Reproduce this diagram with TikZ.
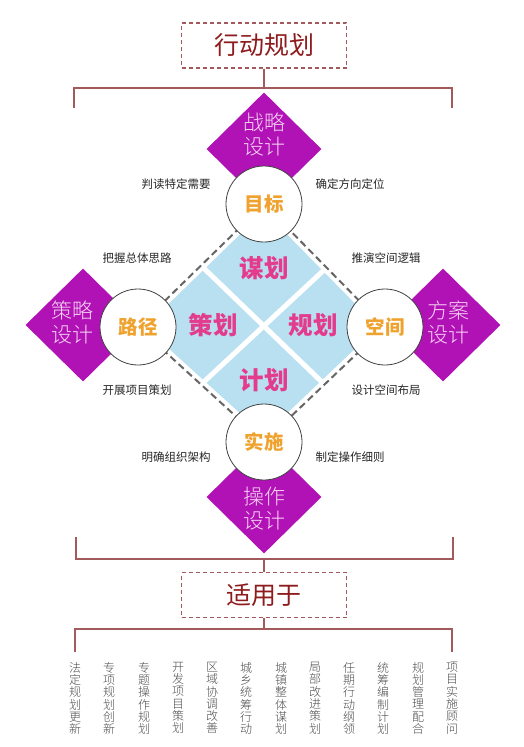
\documentclass[tikz,border=0pt]{standalone}
\usepackage{fontspec}
\setmainfont{Noto Sans CJK SC}
\newfontfamily\thinfont{Noto Sans CJK SC Light}
\usetikzlibrary{shapes.geometric}

\definecolor{bracketred}{HTML}{A35A5C}
\definecolor{titlered}{HTML}{8E1C1E}
\definecolor{designpurple}{HTML}{B012B6}
\definecolor{designink}{HTML}{F7D2F2}
\definecolor{quadblue}{HTML}{B8E0F1}
\definecolor{quadpink}{HTML}{E43C8C}
\definecolor{hubgold}{HTML}{F0A22E}

\begin{document}
\begin{tikzpicture}[x=1pt,y=-1pt,
  bracket/.style={draw=bracketred,line width=1.4pt},
  titlebox/.style={draw=bracketred,dashed,dash pattern=on 4pt off 3pt,line width=1.4pt,
    minimum width=165pt,minimum height=45pt,text=titlered,font=\fontsize{25}{25}\selectfont},
  designbox/.style={diamond,fill=designpurple,inner sep=0pt,minimum width=115pt,minimum height=113pt},
  designtext/.style={text=designink,align=center,font=\thinfont\fontsize{21}{24}\selectfont},
  hub/.style={circle,fill=white,draw=black!75,line width=0.8pt,minimum size=76pt,inner sep=0pt,
    text=hubgold,font=\fontsize{19.5}{19.5}\selectfont\bfseries},
  quadtext/.style={text=quadpink,font=\fontsize{24.5}{24.5}\selectfont\bfseries},
  note/.style={text=black!85,font=\fontsize{11.5}{12}\selectfont},
  coltext/.style={text=black!70,anchor=north,align=center,inner sep=0pt,font=\thinfont\fontsize{12}{12.3}\selectfont}]
\useasboundingbox (0,0) rectangle (523,747);

% top title and bracket
\node[titlebox] (plan) at (264,45.5) {行动规划};
\coordinate (topbar) at (264,88);
\coordinate (topL) at (74,108);
\coordinate (topR) at (452,108);
\draw[bracket] (plan.south) -- (topbar);
\draw[bracket] (topL) |- (topbar) -| (topR);

% corners of the middle square
\coordinate (goal) at (264,204);
\coordinate (route) at (138,327);
\coordinate (space) at (385,327);
\coordinate (act) at (264,442);

% blue square, white cross, dashed rim
\fill[quadblue] (264,211) -- (145,327) -- (264,435) -- (378,327) -- cycle;
\draw[white,line width=5pt] (201,265.5) -- (324.5,384.5);
\draw[white,line width=5pt] (324.5,269.5) -- (201,384.5);
\draw[black!60,line width=2pt,dash pattern=on 7pt off 4pt] (goal) -- (route) -- (act) -- (space) -- cycle;

% purple diamonds
\node[designbox] (strategy) at (264,149) {};
\node[designbox] (tactic) at (83,325) {};
\node[designbox] (scheme) at (443,325) {};
\node[designbox] (operate) at (264,497) {};

% circles
\node[hub] (goalc) at (goal) {目标};
\node[hub] (routec) at (route) {路径};
\node[hub] (spacec) at (space) {空间};
\node[hub] (actc) at (act) {实施};

% diamond texts
\node[designtext] (strategyt) at (264,135) {战略\\设计};
\node[designtext] (tactict) at (72,323) {策略\\设计};
\node[designtext] (schemet) at (448,323) {方案\\设计};
\node[designtext] (operatet) at (264,509) {操作\\设计};

% quadrant texts
\node[quadtext] (mou) at (264,268) {谋划};
\node[quadtext] (ce) at (213,325) {策划};
\node[quadtext] (gui) at (313,325) {规划};
\node[quadtext] (ji) at (264,380) {计划};

% side notes
\node[note] (n1) at (176,184) {判读特定需要};
\node[note] (n2) at (350,184) {确定方向定位};
\node[note] (n3) at (137,258) {把握总体思路};
\node[note] (n4) at (386,258) {推演空间逻辑};
\node[note] (n5) at (137,390) {开展项目策划};
\node[note] (n6) at (386,390) {设计空间布局};
\node[note] (n7) at (176,457) {明确组织架构};
\node[note] (n8) at (350,457) {制定操作细则};

% lower bracket and box
\coordinate (midbar) at (264,559);
\coordinate (midL) at (76,537);
\coordinate (midR) at (453,537);
\draw[bracket] (midL) |- (midbar) -| (midR);
\node[titlebox] (usefor) at (264,595) {适用于};
\draw[bracket] (midbar) -- (usefor.north);
\coordinate (lowbar) at (264,629);
\coordinate (lowL) at (75,652);
\coordinate (lowR) at (452,652);
\draw[bracket] (usefor.south) -- (lowbar);
\draw[bracket] (lowL) |- (lowbar) -| (lowR);

% uses, one column each
\node[coltext] (u1) at (75,662) {法\\定\\规\\划\\更\\新};
\node[coltext] (u2) at (109,662) {专\\项\\规\\划\\创\\新};
\node[coltext] (u3) at (144,662) {专\\题\\操\\作\\规\\划};
\node[coltext] (u4) at (178,662) {开\\发\\项\\目\\策\\划};
\node[coltext] (u5) at (212,662) {区\\域\\协\\调\\改\\善};
\node[coltext] (u6) at (246,662) {城\\乡\\统\\筹\\行\\动};
\node[coltext] (u7) at (281,662) {城\\镇\\整\\体\\谋\\划};
\node[coltext] (u8) at (315,662) {局\\部\\改\\进\\策\\划};
\node[coltext] (u9) at (349,662) {任\\期\\行\\动\\纲\\领};
\node[coltext] (u10) at (383,662) {统\\筹\\编\\制\\计\\划};
\node[coltext] (u11) at (418,662) {规\\划\\管\\理\\配\\合};
\node[coltext] (u12) at (452,662) {项\\目\\实\\施\\顾\\问};
\end{tikzpicture}
\end{document}
